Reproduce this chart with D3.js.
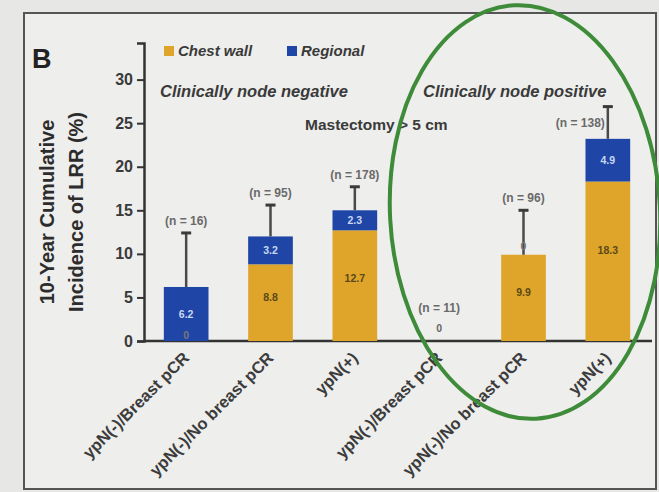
<!DOCTYPE html>
<html>
<head>
<meta charset="utf-8">
<script src="https://cdn.jsdelivr.net/npm/d3@7/dist/d3.min.js"></script>
<style>
  html, body { margin: 0; padding: 0; background: #e7e7e5; }
  svg { display: block; font-family: "Liberation Sans", Arial, sans-serif; }
</style>
</head>
<body>
<svg id="chart" width="659" height="492"></svg>
<script>
// 10-year cumulative incidence of LRR after mastectomy, by nodal status
const categories = [
  "ypN(-)/Breast pCR", "ypN(-)/No breast pCR", "ypN(+)",
  "ypN(-)/Breast pCR", "ypN(-)/No breast pCR", "ypN(+)"
];
const chestWall = [0, 8.8, 12.7, 0, 9.9, 18.3];
const regional  = [6.2, 3.2, 2.3, 0, 0, 4.9];
const upperCI   = [12.4, 15.6, 17.7, null, 15.0, 26.9];
const nLabels   = ["(n = 16)", "(n = 95)", "(n = 178)", "(n = 11)", "(n = 96)", "(n = 138)"];
const yTicks    = [0, 5, 10, 15, 20, 25, 30];
const seriesNames = ["Chest wall", "Regional"];
const groupTitles = ["Clinically node negative", "Clinically node positive"];
const subTitle = "Mastectomy > 5 cm";

const COL_CW = "#dfa52a";
const COL_RG = "#1f46a6";
const INK = "#333";

const svg = d3.select("#chart");

// panel frame
svg.append("rect").attr("x", 24).attr("y", 13).attr("width", 632).attr("height", 476)
  .attr("fill", "#eeeeec").attr("stroke", "#555").attr("stroke-width", 2);

// panel letter
svg.append("text").attr("x", 32).attr("y", 68).text("B")
  .attr("font-size", 27).attr("font-weight", "bold").attr("fill", "#222");

const x0 = 144, yBase = 341;
const x = d3.scaleBand().domain(d3.range(categories.length))
  .range([x0, 650]).paddingInner(0.47).paddingOuter(0.235);
const y = d3.scaleLinear().domain([0, 34.2]).range([yBase, 43]);

// y axis
const yAxis = d3.axisLeft(y).tickValues(yTicks).tickSize(7).tickPadding(4);
const gy = svg.append("g").attr("transform", `translate(${x0},0)`).call(yAxis);
gy.select(".domain").attr("stroke", INK).attr("stroke-width", 2.5);
gy.selectAll(".tick line").attr("stroke", INK).attr("stroke-width", 2);
gy.selectAll(".tick text").attr("font-size", 16).attr("font-weight", "bold")
  .attr("fill", "#3a3a3a").attr("font-family", "Liberation Sans, Arial, sans-serif");

// x axis baseline
const xAxis = d3.axisBottom(x).tickSize(0).tickFormat(() => "");
const gx = svg.append("g").attr("transform", `translate(0,${yBase})`).call(xAxis);
gx.select(".domain").attr("stroke", INK).attr("stroke-width", 2.5)
  .attr("d", `M${x0},0H652`);

// rotated category labels
svg.append("g").selectAll("text").data(categories).join("text")
  .attr("transform", (d, i) => `translate(${x(i) + x.bandwidth() / 2 + 4},${yBase + 18}) rotate(-45)`)
  .attr("text-anchor", "end")
  .attr("font-size", 16.5).attr("font-weight", "bold").attr("fill", "#3c3c3c")
  .text(d => d);

// y axis title
const yTitle = svg.append("text").attr("transform", "translate(0,212) rotate(-90)")
  .attr("text-anchor", "middle").attr("font-size", 20).attr("font-weight", "bold").attr("fill", "#2c2c2c");
yTitle.append("tspan").attr("x", 0).attr("y", 54).text("10-Year Cumulative");
yTitle.append("tspan").attr("x", 0).attr("y", 83).text("Incidence of LRR (%)");

// legend
const legend = svg.append("g");
[COL_CW, COL_RG].forEach((c, i) => {
  const lx = 164 + i * 123;
  legend.append("rect").attr("x", lx).attr("y", 46).attr("width", 10).attr("height", 10).attr("fill", c);
  legend.append("text").attr("x", lx + 14).attr("y", 56).text(seriesNames[i])
    .attr("font-size", 15).attr("font-weight", "bold").attr("font-style", "italic").attr("fill", "#3a3a3a");
});

// group headers
svg.append("text").attr("x", 160).attr("y", 97).text(groupTitles[0])
  .attr("font-size", 16.5).attr("font-weight", "bold").attr("font-style", "italic").attr("fill", "#3a3a3a");
svg.append("text").attr("x", 423).attr("y", 97).text(groupTitles[1])
  .attr("font-size", 16.5).attr("font-weight", "bold").attr("font-style", "italic").attr("fill", "#3a3a3a");
svg.append("text").attr("x", 305).attr("y", 130).text(subTitle)
  .attr("font-size", 15.5).attr("font-weight", "bold").attr("fill", "#3a3a3a");

// stacked bars
const data = categories.map((c, i) => ({ i, cw: chestWall[i], rg: regional[i], ci: upperCI[i], n: nLabels[i] }));
const bars = svg.append("g");
data.forEach(d => {
  const bx = x(d.i), bw = x.bandwidth(), cx = bx + bw / 2;
  const total = d.cw + d.rg;
  if (d.cw > 0) {
    bars.append("rect").attr("x", bx).attr("width", bw)
      .attr("y", y(d.cw)).attr("height", y(0) - y(d.cw)).attr("fill", COL_CW);
  }
  if (d.rg > 0) {
    bars.append("rect").attr("x", bx).attr("width", bw)
      .attr("y", y(total)).attr("height", y(d.cw) - y(total)).attr("fill", COL_RG);
  }
  // upper confidence whisker
  if (d.ci != null) {
    bars.append("line").attr("x1", cx).attr("x2", cx).attr("y1", y(total)).attr("y2", y(d.ci))
      .attr("stroke", "#4a4a4a").attr("stroke-width", 2.5);
    bars.append("line").attr("x1", cx - 5).attr("x2", cx + 5).attr("y1", y(d.ci)).attr("y2", y(d.ci))
      .attr("stroke", "#3a3a3a").attr("stroke-width", 3);
  }
  const lab = (t, ly, fill) => bars.append("text").attr("x", cx).attr("y", ly).attr("dy", "0.35em")
    .attr("text-anchor", "middle").attr("font-size", 10.5).attr("font-weight", "bold").attr("fill", fill).text(t);
  if (total === 0) {
    lab("0", y(0) - 13, "#666");
    lab(d.n, y(0) - 33, "#6a6a6a").attr("font-size", 12);
    return;
  }
  if (d.cw > 0) lab(d.cw.toFixed(1), y(d.cw) + (y(0) - y(d.cw)) * 0.43, "#5a4818");
  else lab("0", y(0) - 6, "#777");
  if (d.rg > 0) lab(d.rg.toFixed(1), (y(d.cw) + y(total)) / 2, "#c9d7f2");
  else lab("0", y(total) - 8, "#777");
  // sample size label: above the cap, or beside the whisker when it would hit the header
  const top = y(d.ci != null ? d.ci : total);
  if (top - 12 < 112) {
    lab(d.n, (top + y(total)) / 2, "#6a6a6a").attr("font-size", 12)
      .attr("text-anchor", "end").attr("x", cx - 3);
  } else {
    lab(d.n, top - 12, "#6a6a6a").attr("font-size", 12);
  }
});

// green highlight ring around the node-positive group
svg.append("ellipse").attr("cx", 525).attr("cy", 212).attr("rx", 135).attr("ry", 207)
  .attr("transform", "rotate(-3,525,212)")
  .attr("fill", "none").attr("stroke", "#3e8c3a").attr("stroke-width", 4);
</script>
</body>
</html>
